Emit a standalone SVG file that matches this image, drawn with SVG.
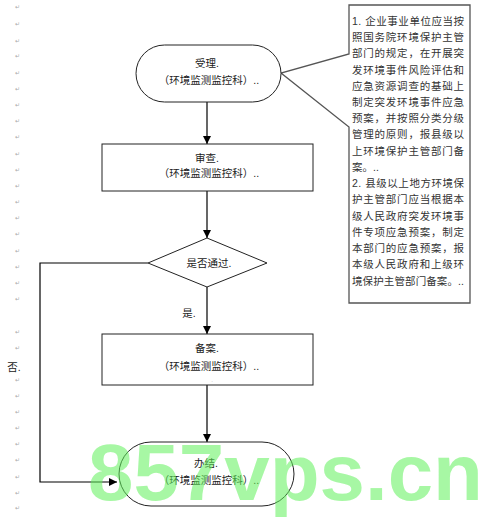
<svg xmlns="http://www.w3.org/2000/svg" width="500" height="518" viewBox="0 0 500 518">
<defs>
<style>
.t{font-family:"Liberation Sans","Noto Sans CJK SC",sans-serif;font-size:10.5px;fill:#222;text-anchor:middle}
.n{font-family:"Liberation Sans","Noto Sans CJK SC",sans-serif;font-size:10.5px;fill:#333}
.m{font-family:"DejaVu Sans",sans-serif;font-size:6px;fill:#aaa}
.s{fill:#fff;stroke:#222;stroke-width:1}
.c{fill:none;stroke:#000;stroke-width:1.2}
</style>
<marker id="ah" markerWidth="8" markerHeight="8" viewBox="0 0 8 8" refX="8" refY="4" orient="auto" markerUnits="userSpaceOnUse">
<path d="M0,0 L8,4 L0,8 z" fill="#000"/>
</marker>
</defs>
<rect width="500" height="518" fill="#fff"/>
<g id="margin-marks">
<text class="m" x="15" y="9">↵</text><text class="m" x="15" y="26">↵</text><text class="m" x="15" y="43">↵</text><text class="m" x="15" y="58">↵</text><text class="m" x="15" y="75">↵</text><text class="m" x="15" y="91">↵</text><text class="m" x="15" y="107">↵</text><text class="m" x="15" y="123">↵</text><text class="m" x="15" y="139">↵</text><text class="m" x="15" y="156">↵</text><text class="m" x="15" y="172">↵</text><text class="m" x="15" y="188">↵</text><text class="m" x="15" y="204">↵</text><text class="m" x="15" y="220">↵</text><text class="m" x="15" y="236">↵</text><text class="m" x="15" y="253">↵</text><text class="m" x="15" y="269">↵</text><text class="m" x="15" y="285">↵</text><text class="m" x="15" y="301">↵</text><text class="m" x="15" y="334">↵</text><text class="m" x="15" y="350">↵</text><text class="m" x="15" y="382">↵</text><text class="m" x="15" y="398">↵</text><text class="m" x="15" y="414">↵</text><text class="m" x="15" y="430">↵</text><text class="m" x="15" y="446">↵</text><text class="m" x="15" y="462">↵</text><text class="m" x="15" y="479">↵</text><text class="m" x="15" y="495">↵</text><text class="m" x="15" y="510">↵</text>
</g>
<g id="connectors">
<line class="c" x1="207" y1="102" x2="207" y2="144" marker-end="url(#ah)"/>
<line class="c" x1="207" y1="191" x2="207" y2="238" marker-end="url(#ah)"/>
<line class="c" x1="207" y1="287" x2="207" y2="334" marker-end="url(#ah)"/>
<line class="c" x1="207" y1="385" x2="207" y2="442" marker-end="url(#ah)"/>
<polyline class="c" points="148,263 40,263 40,482 117,482" marker-end="url(#ah)"/>
<text class="t" x="189" y="317">是.</text>
<text class="t" x="14" y="371">否.</text>
</g>
<g id="callout">
<path d="M349,5 H470 V303 H349 V127 L281,73 L349,54 Z" fill="#fff" stroke="#555" stroke-width="1.3"/>
<text class="n" x="352" y="25" textLength="112" lengthAdjust="spacing">1. 企业事业单位应当按</text>
<text class="n" x="352" y="41" textLength="112" lengthAdjust="spacing">照国务院环境保护主管</text>
<text class="n" x="352" y="57" textLength="112" lengthAdjust="spacing">部门的规定，在开展突</text>
<text class="n" x="352" y="74" textLength="112" lengthAdjust="spacing">发环境事件风险评估和</text>
<text class="n" x="352" y="90" textLength="112" lengthAdjust="spacing">应急资源调查的基础上</text>
<text class="n" x="352" y="106" textLength="112" lengthAdjust="spacing">制定突发环境事件应急</text>
<text class="n" x="352" y="122" textLength="112" lengthAdjust="spacing">预案，并按照分类分级</text>
<text class="n" x="352" y="138" textLength="112" lengthAdjust="spacing">管理的原则，报县级以</text>
<text class="n" x="352" y="155" textLength="112" lengthAdjust="spacing">上环境保护主管部门备</text>
<text class="n" x="352" y="171">案。..</text>
<text class="n" x="352" y="187" textLength="112" lengthAdjust="spacing">2. 县级以上地方环境保</text>
<text class="n" x="352" y="203" textLength="112" lengthAdjust="spacing">护主管部门应当根据本</text>
<text class="n" x="352" y="220" textLength="112" lengthAdjust="spacing">级人民政府突发环境事</text>
<text class="n" x="352" y="236" textLength="112" lengthAdjust="spacing">件专项应急预案，制定</text>
<text class="n" x="352" y="252" textLength="112" lengthAdjust="spacing">本部门的应急预案，报</text>
<text class="n" x="352" y="268" textLength="112" lengthAdjust="spacing">本级人民政府和上级环</text>
<text class="n" x="352" y="285" textLength="112" lengthAdjust="spacing">境保护主管部门备案。..</text>
</g>
<g id="node-accept">
<rect class="s" x="136" y="45" width="145" height="57" rx="28.5"/>
<text class="t" x="207" y="67">受理.</text>
<text class="t" x="209" y="84">（环境监测监控科）..</text>
</g>
<g id="node-review">
<rect class="s" x="102" y="144" width="211" height="47"/>
<text class="t" x="207" y="162">审查.</text>
<text class="t" x="209" y="177">（环境监测监控科）..</text>
</g>
<g id="node-decision">
<polygon class="s" points="207,238 267,263 207,287 148,263"/>
<text class="t" x="209" y="267">是否通过.</text>
</g>
<g id="node-record">
<rect class="s" x="102" y="334" width="211" height="51"/>
<text class="t" x="207" y="352">备案.</text>
<text class="t" x="209" y="370">（环境监测监控科）..</text>
<text class="t" x="212" y="382" style="font-size:6px;fill:#aaa">.</text>
</g>
<g id="node-finish">
<rect class="s" x="119" y="442" width="175" height="64" rx="32"/>
<text class="t" x="206" y="467">办结.</text>
<text class="t" x="209" y="484">（环境监测监控科）..</text>
</g>
<g id="watermark">
<text x="88" y="500" textLength="395" lengthAdjust="spacingAndGlyphs" style="font-family:'Liberation Sans',sans-serif;font-weight:bold;font-size:80px;fill:#5ef05a;fill-opacity:0.55">857vps.cn</text>
</g>
</svg>
